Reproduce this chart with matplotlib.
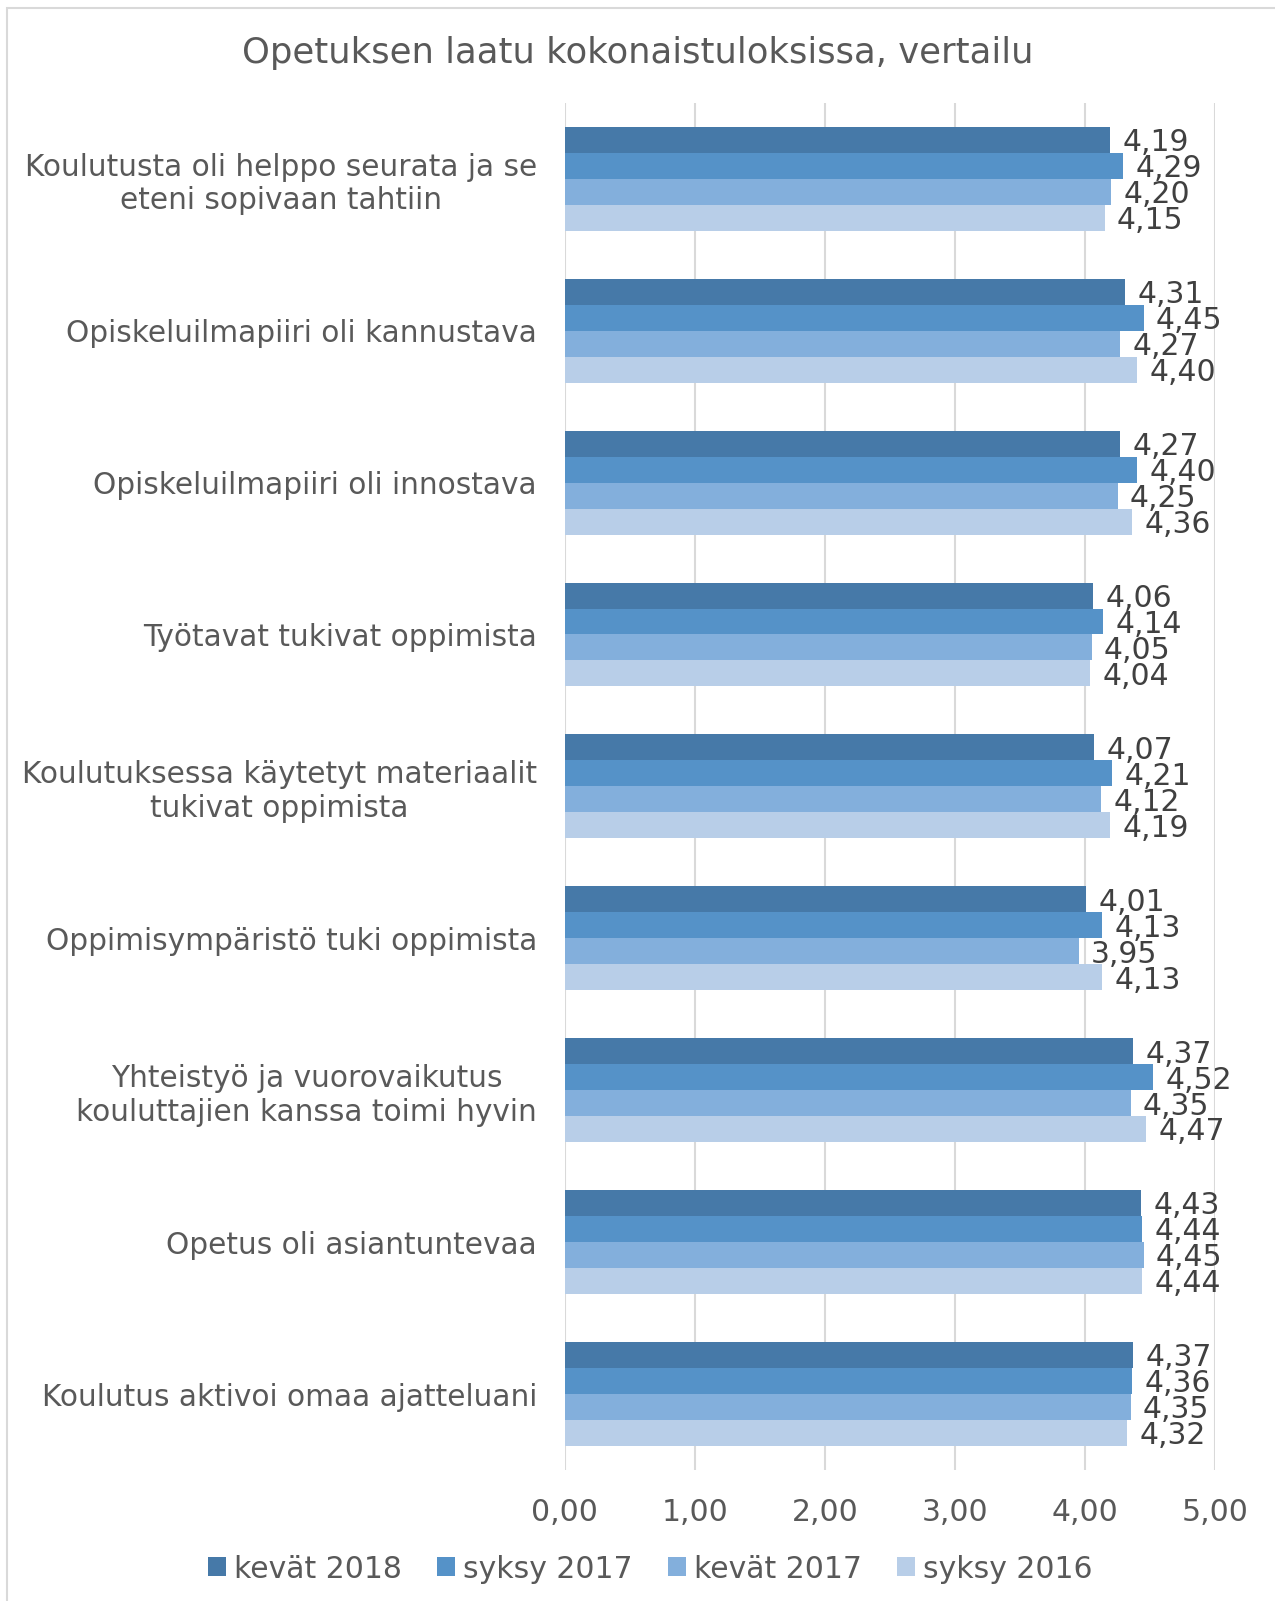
import numpy as np
import matplotlib.pyplot as plt
from matplotlib.patches import Rectangle

# Opetuksen laatu - vertailu eri toteutuskertojen välillä
kategoriat = [
    "Koulutusta oli helppo seurata ja se\neteni sopivaan tahtiin",
    "Opiskeluilmapiiri oli kannustava",
    "Opiskeluilmapiiri oli innostava",
    "Työtavat tukivat oppimista",
    "Koulutuksessa käytetyt materiaalit\ntukivat oppimista",
    "Oppimisympäristö tuki oppimista",
    "Yhteistyö ja vuorovaikutus\nkouluttajien kanssa toimi hyvin",
    "Opetus oli asiantuntevaa",
    "Koulutus aktivoi omaa ajatteluani",
]
sarjat = ["kevät 2018", "syksy 2017", "kevät 2017", "syksy 2016"]
kevat_2018 = [4.19, 4.31, 4.27, 4.06, 4.07, 4.01, 4.37, 4.43, 4.37]
syksy_2017 = [4.29, 4.45, 4.40, 4.14, 4.21, 4.13, 4.52, 4.44, 4.36]
kevat_2017 = [4.20, 4.27, 4.25, 4.05, 4.12, 3.95, 4.35, 4.45, 4.35]
syksy_2016 = [4.15, 4.40, 4.36, 4.04, 4.19, 4.13, 4.47, 4.44, 4.32]
arvot = [kevat_2018, syksy_2017, kevat_2017, syksy_2016]
varit = ["#4679a8", "#5592c8", "#83afdc", "#b8cee8"]
x_ticks = [0, 1, 2, 3, 4, 5]

teksti = "#595959"

fig = plt.figure(figsize=(12.75, 16.01), dpi=100)
ax = fig.add_axes([0.443, 0.0818, 0.510, 0.854])

# kehys kaavion ympärillä
fig.patches.append(Rectangle((7 / 1275, -0.01), 1.02, 1 - 8 / 1601 + 0.01,
                             transform=fig.transFigure, fill=False,
                             edgecolor="#d9d9d9", linewidth=1.5))

y = np.arange(len(kategoriat))
h = 0.171
for j, (nimi, vals) in enumerate(zip(sarjat, arvot)):
    pos = y + (j - 1.5) * h
    ax.barh(pos, vals, height=h, color=varit[j], label=nimi, zorder=2)
    for p, v in zip(pos, vals):
        ax.annotate(f"{v:.2f}".replace(".", ","), (v, p), xytext=(9, -2),
                    textcoords="offset points", va="center", ha="left",
                    fontsize=21.5, color="#404040", zorder=3)

ax.set_xlim(0, 5)
ax.set_ylim(len(kategoriat) - 0.5, -0.5)
ax.set_xticks(x_ticks)
ax.set_xticklabels([f"{t:.2f}".replace(".", ",") for t in x_ticks])
ax.set_yticks(y)
ax.set_yticklabels(kategoriat, linespacing=1.2)
ax.grid(axis="x", color="#d9d9d9", linewidth=1.5, zorder=0)
ax.tick_params(axis="x", length=0, labelsize=21.5, labelcolor=teksti, pad=20)
ax.tick_params(axis="y", length=0, labelsize=21.3, labelcolor=teksti, pad=20)
for s in ax.spines.values():
    s.set_visible(False)
for lab in ax.get_yticklabels():
    lab.set_horizontalalignment("right")
    lab.set_multialignment("center")

fig.text(0.5, 1 - 53 / 1601, "Opetuksen laatu kokonaistuloksissa, vertailu",
         ha="center", va="center", fontsize=25.5, color=teksti)

fig.legend(loc="center", bbox_to_anchor=(0.510, 1 - 1569 / 1601), ncol=4,
           frameon=False, fontsize=21.5, labelcolor=teksti, handlelength=0.6,
           handleheight=0.6, handletextpad=0.25, columnspacing=1.2)

fig.savefig("out.png", dpi=100)
